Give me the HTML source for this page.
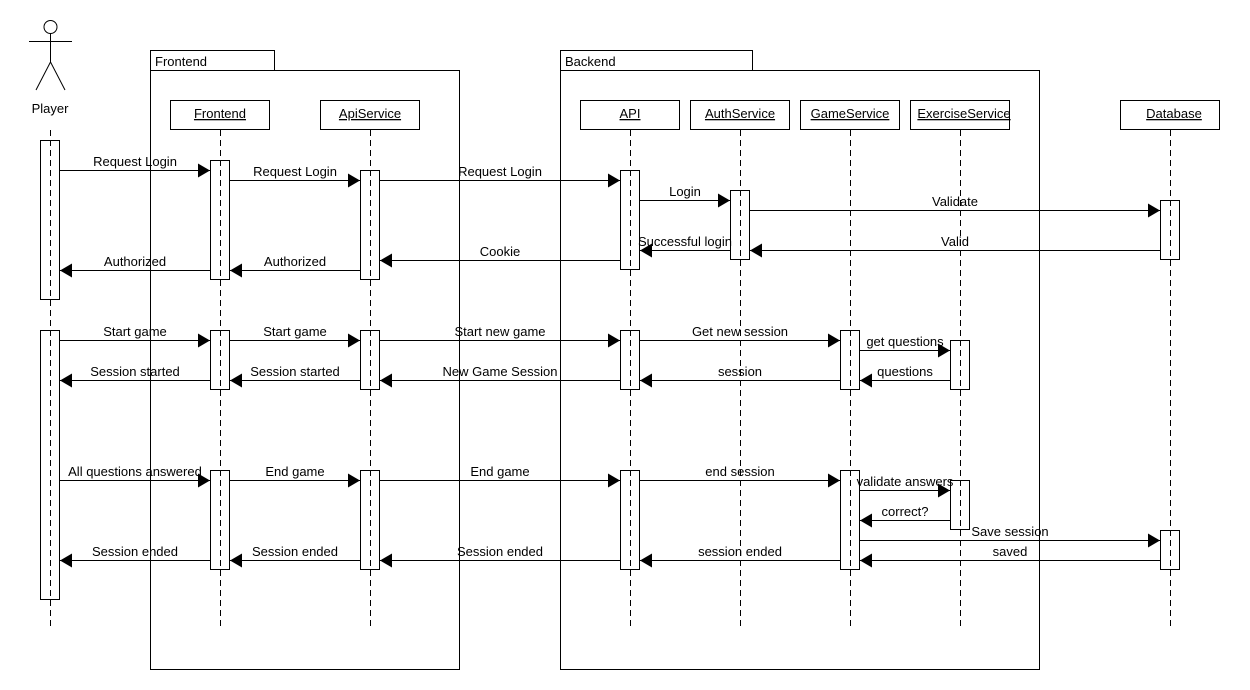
<!DOCTYPE html>
<html><head><meta charset="utf-8"><style>
html,body{margin:0;padding:0;background:#fff;}
svg{display:block;}
text{font-family:"Liberation Sans",sans-serif;font-size:13px;fill:#000;}
</style></head><body>
<svg width="1250" height="690" viewBox="0 0 1250 690" xmlns="http://www.w3.org/2000/svg">
<defs>
<marker id="a" markerWidth="13" markerHeight="14" refX="12" refY="7" orient="auto" markerUnits="userSpaceOnUse">
<path d="M0,0 L12,7 L0,14 Z" fill="#000"/>
</marker>
</defs>
<g fill="#fff" stroke="#000" stroke-width="1">
<rect x="150.5" y="50.5" width="124" height="20"/>
<rect x="150.5" y="70.5" width="309" height="599"/>
<rect x="560.5" y="50.5" width="192" height="20"/>
<rect x="560.5" y="70.5" width="479" height="599"/>
<circle cx="50.5" cy="27" r="6.5"/>
<path d="M50.5,33.5 V62 M29,41.5 H72 M50.5,62 L36,90 M50.5,62 L65,90" fill="none"/>
<rect x="170.5" y="100.5" width="99" height="29"/>
<rect x="320.5" y="100.5" width="99" height="29"/>
<rect x="580.5" y="100.5" width="99" height="29"/>
<rect x="690.5" y="100.5" width="99" height="29"/>
<rect x="800.5" y="100.5" width="99" height="29"/>
<rect x="910.5" y="100.5" width="99" height="29"/>
<rect x="1120.5" y="100.5" width="99" height="29"/>
</g>
<g stroke="#000" stroke-dasharray="6,4" fill="none">
<path d="M50.5,130 V630 M220.5,130 V630 M370.5,130 V630 M630.5,130 V630 M740.5,130 V630 M850.5,130 V630 M960.5,130 V630 M1170.5,130 V630"/>
</g>
<g fill="none" stroke="#000">
<rect x="40.5" y="140.5" width="19" height="159"/>
<rect x="40.5" y="330.5" width="19" height="269"/>
<rect x="210.5" y="160.5" width="19" height="119"/>
<rect x="210.5" y="330.5" width="19" height="59"/>
<rect x="210.5" y="470.5" width="19" height="99"/>
<rect x="360.5" y="170.5" width="19" height="109"/>
<rect x="360.5" y="330.5" width="19" height="59"/>
<rect x="360.5" y="470.5" width="19" height="99"/>
<rect x="620.5" y="170.5" width="19" height="99"/>
<rect x="620.5" y="330.5" width="19" height="59"/>
<rect x="620.5" y="470.5" width="19" height="99"/>
<rect x="730.5" y="190.5" width="19" height="69"/>
<rect x="840.5" y="330.5" width="19" height="59"/>
<rect x="840.5" y="470.5" width="19" height="99"/>
<rect x="950.5" y="340.5" width="19" height="49"/>
<rect x="950.5" y="480.5" width="19" height="49"/>
<rect x="1160.5" y="200.5" width="19" height="59"/>
<rect x="1160.5" y="530.5" width="19" height="39"/>
</g>
<g stroke="#000" fill="none" marker-end="url(#a)">
<path d="M60,170.5 H210"/>
<path d="M230,180.5 H360"/>
<path d="M380,180.5 H620"/>
<path d="M640,200.5 H730"/>
<path d="M750,210.5 H1160"/>
<path d="M1160,250.5 H750"/>
<path d="M730,250.5 H640"/>
<path d="M620,260.5 H380"/>
<path d="M360,270.5 H230"/>
<path d="M210,270.5 H60"/>
<path d="M60,340.5 H210"/>
<path d="M230,340.5 H360"/>
<path d="M380,340.5 H620"/>
<path d="M640,340.5 H840"/>
<path d="M860,350.5 H950"/>
<path d="M950,380.5 H860"/>
<path d="M840,380.5 H640"/>
<path d="M620,380.5 H380"/>
<path d="M360,380.5 H230"/>
<path d="M210,380.5 H60"/>
<path d="M60,480.5 H210"/>
<path d="M230,480.5 H360"/>
<path d="M380,480.5 H620"/>
<path d="M640,480.5 H840"/>
<path d="M860,490.5 H950"/>
<path d="M950,520.5 H860"/>
<path d="M860,540.5 H1160"/>
<path d="M1160,560.5 H860"/>
<path d="M840,560.5 H640"/>
<path d="M620,560.5 H380"/>
<path d="M360,560.5 H230"/>
<path d="M210,560.5 H60"/>
</g>
<g text-anchor="start">
<text x="155" y="66">Frontend</text>
<text x="565" y="66">Backend</text>
</g>
<g text-anchor="middle">
<text x="50" y="113">Player</text>
<text x="220" y="118" text-decoration="underline">Frontend</text>
<text x="370" y="118" text-decoration="underline">ApiService</text>
<text x="630" y="118" text-decoration="underline">API</text>
<text x="740" y="118" text-decoration="underline">AuthService</text>
<text x="850" y="118" text-decoration="underline">GameService</text>
<text x="964" y="118" text-decoration="underline">ExerciseService</text>
<text x="1174" y="118" text-decoration="underline">Database</text>

<text x="135" y="166">Request Login</text>
<text x="295" y="176">Request Login</text>
<text x="500" y="176">Request Login</text>
<text x="685" y="196">Login</text>
<text x="955" y="206">Validate</text>
<text x="955" y="246">Valid</text>
<text x="685" y="246">Successful login</text>
<text x="500" y="256">Cookie</text>
<text x="295" y="266">Authorized</text>
<text x="135" y="266">Authorized</text>

<text x="135" y="336">Start game</text>
<text x="295" y="336">Start game</text>
<text x="500" y="336">Start new game</text>
<text x="740" y="336">Get new session</text>
<text x="905" y="346">get questions</text>
<text x="905" y="376">questions</text>
<text x="740" y="376">session</text>
<text x="500" y="376">New Game Session</text>
<text x="295" y="376">Session started</text>
<text x="135" y="376">Session started</text>

<text x="135" y="476">All questions answered</text>
<text x="295" y="476">End game</text>
<text x="500" y="476">End game</text>
<text x="740" y="476">end session</text>
<text x="905" y="486">validate answers</text>
<text x="905" y="516">correct?</text>
<text x="1010" y="536">Save session</text>
<text x="1010" y="556">saved</text>
<text x="740" y="556">session ended</text>
<text x="500" y="556">Session ended</text>
<text x="295" y="556">Session ended</text>
<text x="135" y="556">Session ended</text>
</g>
</svg>
</body></html>
